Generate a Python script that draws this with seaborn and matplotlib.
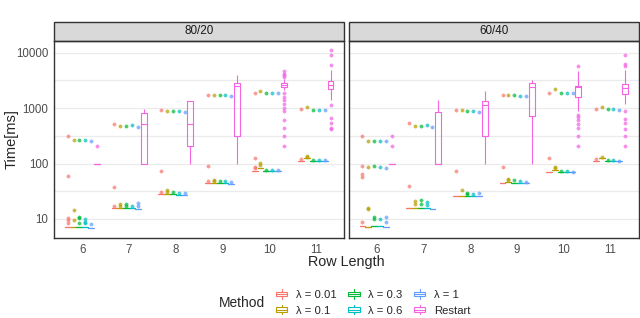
import pandas as pd
import matplotlib.pyplot as plt
import seaborn as sns
from matplotlib.patches import Rectangle, Patch
from matplotlib.lines import Line2D
from matplotlib.legend_handler import HandlerBase
from matplotlib.ticker import FixedLocator, FixedFormatter, NullFormatter

row_lengths = [6, 7, 8, 9, 10, 11]
methods = ["λ = 0.01", "λ = 0.1", "λ = 0.3", "λ = 0.6", "λ = 1", "Restart"]
splits = ["80/20", "60/40"]
colors = ["#F8766D", "#B79F00", "#00BA38", "#00BFC4", "#619CFF", "#F564E3"]
y_ticks = [10, 100, 1000, 10000]
y_tick_labels = ["10", "100", "1000", "10000"]

# most runs of a lambda method finish in (almost) the same time, in ms
core_8020 = {
    "λ = 0.01": [7.3, 15.6, 27.9, 44, 73.5, 112],
    "λ = 0.1": [7.2, 15.8, 28.5, 45, 82, 124],
    "λ = 0.3": [7.2, 15.6, 28, 44, 73, 111],
    "λ = 0.6": [7.3, 15.5, 27.5, 44.5, 72, 112],
    "λ = 1": [6.9, 15.2, 27.3, 43, 72, 111],
}
core_6040 = {
    "λ = 0.01": [7.5, 15.6, 26.4, 45.3, 69.5, 112],
    "λ = 0.1": [7.3, 15.8, 26.4, 46, 76, 124],
    "λ = 0.3": [7.4, 15.7, 26.4, 45.3, 69.5, 111],
    "λ = 0.6": [7.5, 15.6, 26.4, 45.3, 69.5, 111],
    "λ = 1": [7.1, 15.2, 26.0, 45.3, 69.5, 110],
}
CORE_RUNS = 20

# runs that stray from that time, one list per row length
extra_8020 = {
    "λ = 0.01": [[320, 60, 10.5, 9.5, 8.5], [520, 38, 17], [910, 74, 31],
                 [1710, 91, 48], [1900, 127, 88, 83], [950, 122]],
    "λ = 0.1": [[270, 14.5, 9.5], [480, 19, 17.5], [880, 33, 31],
                [1700, 50.5, 48], [2000, 104, 95], [1050, 137, 130]],
    "λ = 0.3": [[265, 11, 10.5, 8.5], [480, 18.5, 17], [875, 31],
                [1690, 48], [1870, 78], [930, 118]],
    "λ = 0.6": [[265, 10, 9, 8.5], [490, 17], [870, 30],
                [1700, 48], [1870, 76], [930, 116]],
    "λ = 1": [[257, 8.0], [465, 19.5, 17], [860, 30],
              [1630, 46], [1870, 75], [930, 114]],
}
extra_6040 = {
    "λ = 0.01": [[316, 91, 66, 58, 9], [535, 39.4], [930, 74],
                 [1700, 88], [1900, 127], [950, 120]],
    "λ = 0.1": [[260, 85, 15.6, 15], [480, 21, 19], [910, 34],
                [1690, 53, 50], [2170, 88, 82], [1050, 130]],
    "λ = 0.3": [[260, 90, 10.7, 10], [480, 22, 19], [890, 30, 28.5],
                [1690, 50], [1900, 74], [950, 116]],
    "λ = 0.6": [[260, 88, 10.2], [490, 20, 18], [880, 28.5],
                [1680, 49], [1900, 72], [950, 114]],
    "λ = 1": [[255, 84, 11, 9], [465], [860, 29],
              [1630, 47], [1870, 71], [930, 112]],
}

# Restart runs, one list per row length
restart_8020 = [
    [100] * 20 + [210],
    [100, 100, 100, 300, 520, 600, 830, 900, 950],
    [100, 150, 210, 400, 520, 900, 1370, 1370, 1370],
    [100, 200, 316, 1500, 2520, 2700, 2800, 3300, 4000],
    [210, 316, 435, 620, 870, 1000, 1200, 1410, 1620, 1860, 2140]
    + [2400] * 6 + [2500] * 5 + [2600] * 6 + [2700] * 5 + [2800] * 3
    + [3000] * 3 + [3300] * 2 + [3700, 4000, 4200, 4600],
    [420, 435, 535, 660, 1150, 1400, 2170, 2200, 2300, 2400, 2500, 2550, 2600,
     2650, 2700, 2800, 2900, 3000, 3100, 3500, 4200, 4800, 6050, 9200, 11300],
]
restart_6040 = [
    [100] * 20 + [210, 316],
    [100, 100, 100, 100, 100, 400, 850, 1100, 1400],
    [100, 200, 310, 800, 1150, 1250, 1350, 1700, 2000],
    [100, 300, 730, 1800, 2370, 2600, 2800, 3000, 3200],
    [210, 320, 430, 520, 620, 690, 760, 870, 1580, 1700, 1800, 1900, 2000,
     2100, 2200, 2300, 2400, 2400, 2400, 2400, 2450, 2450, 2450, 2460, 2460,
     2600, 2800, 3000, 3300, 3700, 4200, 4700, 5700],
    [210, 320, 420, 540, 640, 870, 1180, 1790, 1900, 2000, 2100, 2150, 2200,
     2250, 2300, 2400, 2450, 2500, 2550, 2600, 2650, 2700, 3000, 3500, 4200,
     4900, 5850, 6200, 9100],
]


def build_frame():
    records = []
    sets = [("80/20", core_8020, extra_8020, restart_8020),
            ("60/40", core_6040, extra_6040, restart_6040)]
    for split, core, extra, restart in sets:
        for m in methods[:-1]:
            for i, rl in enumerate(row_lengths):
                times = [core[m][i]] * CORE_RUNS + extra[m][i]
                records += [(split, rl, m, t) for t in times]
        for i, rl in enumerate(row_lengths):
            records += [(split, rl, "Restart", t) for t in restart[i]]
    return pd.DataFrame(records, columns=["split", "row", "method", "time"])


class BoxKey(HandlerBase):
    # little boxplot glyph like ggplot's legend key
    def create_artists(self, legend, handle, xd, yd, w, h, fontsize, trans):
        c = handle.get_edgecolor()
        x0, y0 = -xd, -yd
        box = Rectangle((x0, y0 + 0.25 * h), w, 0.5 * h, facecolor="white",
                        edgecolor=c, lw=0.8, transform=trans)
        mid = Line2D([x0, x0 + w], [y0 + 0.5 * h] * 2, color=c, lw=0.8, transform=trans)
        top = Line2D([x0 + w / 2] * 2, [y0 + 0.75 * h, y0 + h], color=c, lw=0.8, transform=trans)
        bot = Line2D([x0 + w / 2] * 2, [y0, y0 + 0.25 * h], color=c, lw=0.8, transform=trans)
        return [box, mid, top, bot]


def main():
    df = build_frame()

    sns.set_style("white")
    plt.rcParams["font.family"] = ["Liberation Sans", "DejaVu Sans"]

    W, H = 640, 318
    fig = plt.figure(figsize=(6.4, 3.18), dpi=100)
    top, bottom = 40.7, 238
    lefts = [(54.3, 344), (349, 638.5)]
    axes = [fig.add_axes([l / W, 1 - bottom / H, (r - l) / W, (bottom - top) / H])
            for l, r in lefts]

    strip_h = 19 / (bottom - top)
    for k, (ax, split) in enumerate(zip(axes, splits)):
        sns.boxplot(data=df[df.split == split], x="row", y="time", hue="method",
                    order=row_lengths, hue_order=methods, palette=colors,
                    fill=False, width=0.75, linewidth=0.8, log_scale=True,
                    showcaps=False, legend=False, ax=ax,
                    flierprops=dict(marker="o", markersize=2.4, alpha=0.7,
                                    markeredgewidth=0.3))
        for ln in ax.lines:
            if ln.get_marker() not in (None, "None", "", " "):
                ln.set_markerfacecolor(ln.get_markeredgecolor())

        ax.set_xlim(-0.6, 5.6)
        ax.set_ylim(4.54, 16460)
        ax.yaxis.set_major_locator(FixedLocator(y_ticks))
        ax.yaxis.set_major_formatter(FixedFormatter(y_tick_labels))
        ax.yaxis.set_minor_locator(FixedLocator([31.6, 316, 3162]))
        ax.yaxis.set_minor_formatter(NullFormatter())
        ax.grid(axis="y", which="both", color="#EBEBEB", lw=0.9)
        ax.set_axisbelow(True)
        ax.set_xlabel("")
        ax.set_ylabel("")
        for s in ax.spines.values():
            s.set_color("#333333")
            s.set_linewidth(1.0)
        ax.tick_params(axis="both", which="major", length=3, width=0.8,
                       color="#333333", labelsize=8.3, labelcolor="#4D4D4D", pad=1.5)
        ax.tick_params(axis="y", which="minor", length=0)
        if k == 1:
            ax.tick_params(axis="y", which="major", left=False, labelleft=False)

        ax.add_patch(Rectangle((0, 1), 1, strip_h, transform=ax.transAxes,
                               clip_on=False, facecolor="#D9D9D9",
                               edgecolor="#333333", lw=1.0))
        ax.text(0.5, 1 + strip_h / 2, split, transform=ax.transAxes,
                ha="center", va="center", fontsize=8.4, color="#1A1A1A")

    fig.text(346 / W, 1 - 262 / H, "Row Length", ha="center", va="center", fontsize=10.4)
    fig.text(12 / W, 1 - 139 / H, "Time[ms]", ha="center", va="center",
             rotation=90, fontsize=10.5)
    fig.text(219 / W, 1 - 303 / H, "Method", ha="left", va="center", fontsize=9.9)

    handles = [Patch(edgecolor=c, facecolor="white") for c in colors]
    fig.legend(handles=handles, labels=methods, ncol=3, loc="center left",
               bbox_to_anchor=(276 / W, 1 - 302.5 / H), frameon=False,
               fontsize=8.1, handler_map={Patch: BoxKey()}, handlelength=1.0,
               handleheight=0.9, handletextpad=0.8, columnspacing=1.0,
               labelspacing=0.45, borderpad=0, borderaxespad=0)

    fig.savefig("out.png", dpi=100)
    plt.close(fig)


if __name__ == "__main__":
    main()
